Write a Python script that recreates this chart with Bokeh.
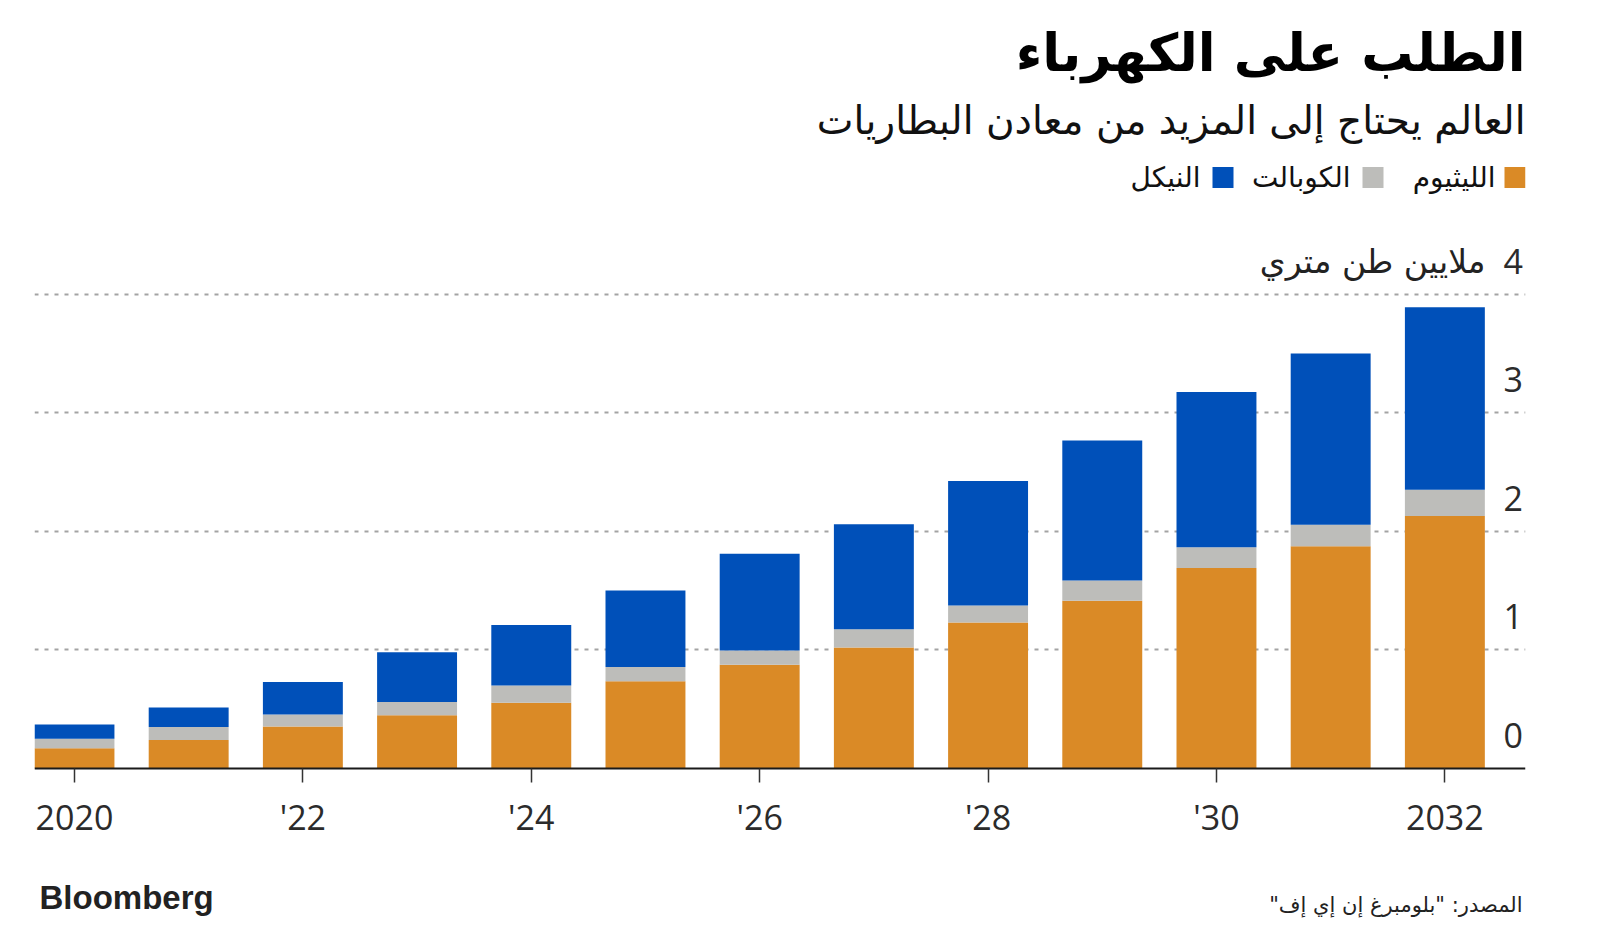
from bokeh.plotting import figure
from bokeh.models import (ColumnDataSource, Range1d, LinearAxis, FixedTicker, Grid,
                          Label, BoxAnnotation)
from bokeh.embed import file_html
from bokeh.resources import INLINE

# ---------------- data ----------------
years = [2020, 2021, 2022, 2023, 2024, 2025, 2026, 2027, 2028, 2029, 2030, 2031, 2032]
lithium = [0.17, 0.24, 0.355, 0.45, 0.555, 0.735, 0.875, 1.02, 1.23, 1.415, 1.69, 1.875, 2.13]
cobalt = [0.08, 0.11, 0.10, 0.11, 0.145, 0.12, 0.12, 0.155, 0.145, 0.17, 0.175, 0.18, 0.22]
nickel = [0.12, 0.165, 0.275, 0.42, 0.51, 0.645, 0.815, 0.885, 1.05, 1.18, 1.31, 1.445, 1.54]

series_keys = ["lithium", "cobalt", "nickel"]
series_names = ["الليثيوم", "الكوبالت", "النيكل"]
series_colors = ["#DA8A26", "#BDBDBA", "#0050B9"]

x_ticks = [2020, 2022, 2024, 2026, 2028, 2030, 2032]
x_tick_labels = ["2020", "'22", "'24", "'26", "'28", "'30", "2032"]
y_ticks = [0, 1, 2, 3, 4]

title_text = "الطلب على الكهرباء"
subtitle_text = "العالم يحتاج إلى المزيد من معادن البطاريات"
unit_text = "ملايين طن متري"
source_text = 'المصدر: "بلومبرغ إن إي إف"\u200f'
brand_text = "Bloomberg"

# ---------------- layout geometry (pixels) ----------------
W, H = 1600, 929
FRAME_L, FRAME_R = 34, 1525          # frame spans full height
BASE_PX = 768                        # pixel row of y = 0
PX_PER_UNIT = 118.6
PX_PER_YEAR = 114.2
X_START = 2019.65
LABEL_SHIFT = 0.278                  # tick labels sit above their gridlines

y0 = -(H - BASE_PX) / PX_PER_UNIT
y1 = BASE_PX / PX_PER_UNIT
x1 = X_START + (FRAME_R - FRAME_L) / PX_PER_YEAR

src = ColumnDataSource(dict(year=years, lithium=lithium, cobalt=cobalt, nickel=nickel))

p = figure(width=W, height=H, output_backend="svg", toolbar_location=None,
           x_range=Range1d(X_START, x1), y_range=Range1d(y0, y1),
           y_axis_location=None,
           min_border_left=FRAME_L, min_border_right=W - FRAME_R,
           min_border_top=0, min_border_bottom=0)
p.outline_line_color = None
p.background_fill_color = "white"
p.border_fill_color = "white"
for g in p.grid:
    g.visible = False

grid = Grid(dimension=1, ticker=FixedTicker(ticks=y_ticks[1:]),
            grid_line_color="#A3A3A3", grid_line_width=2, grid_line_dash="4 6")
p.add_layout(grid)

p.vbar_stack(series_keys, x="year", width=0.7, source=src,
             fill_color=series_colors, line_color=None)

# x axis drawn at y = 0 inside the frame
xa = p.xaxis[0]
xa.fixed_location = 0
xa.ticker = FixedTicker(ticks=x_ticks)
xa.major_label_overrides = {t: l for t, l in zip(x_ticks, x_tick_labels)}
xa.axis_line_color = "#1a1a1a"
xa.axis_line_width = 2.2
xa.major_tick_line_color = "#333333"
xa.major_tick_line_width = 1.5
xa.major_tick_out = 14
xa.major_tick_in = 0
xa.minor_tick_line_color = None
xa.major_label_standoff = 11
xa.major_label_text_font = "Open Sans"
xa.major_label_text_font_size = "34px"
xa.major_label_text_color = "#2b2b2b"

# right y axis with labels placed just above the gridlines
p.extra_y_ranges = {"lab": Range1d(y0 - LABEL_SHIFT, y1 - LABEL_SHIFT)}
ya = LinearAxis(y_range_name="lab", ticker=FixedTicker(ticks=y_ticks),
                axis_line_color=None, major_tick_line_color=None,
                minor_tick_line_color=None, major_tick_out=0, major_tick_in=0,
                major_label_standoff=-22,
                major_label_text_font="Open Sans",
                major_label_text_font_size="34px",
                major_label_text_color="#2b2b2b")
p.add_layout(ya, "right")

AR_FONT = "DejaVu Sans"


def label(text, px_x, px_y, size, color="#111111", align="right", font=AR_FONT,
          style="normal"):
    # px_x, px_y: page pixel position (from top-left) converted to frame screen units
    p.add_layout(Label(text=text, x=px_x - FRAME_L, y=H - px_y,
                       x_units="screen", y_units="screen",
                       text_align=align, text_baseline="middle",
                       text_font=font, text_font_size=size,
                       text_font_style=style, text_color=color))


# unit label next to the "4" tick
p.add_layout(Label(text=unit_text, x=1485 - FRAME_L, y=y_ticks[-1] + LABEL_SHIFT,
                   x_units="screen", y_units="data",
                   text_align="right", text_baseline="middle",
                   text_font=AR_FONT, text_font_size="33px", text_color="#222222"))

# title / subtitle
label(title_text, 1525, 52, "52px", color="#000000", style="bold")
label(subtitle_text, 1525, 120, "39px", color="#111111")

# legend, right-to-left
leg_px_y = 177
sq = 21
sq_rights = [1525, 1383, 1233]
txt_rights = [1495, 1350, 1200]
for name, col, sr, tr in zip(series_names, series_colors, sq_rights, txt_rights):
    sy = H - leg_px_y
    p.add_layout(BoxAnnotation(left=sr - sq - FRAME_L, right=sr - FRAME_L,
                               bottom=sy - sq / 2, top=sy + sq / 2,
                               left_units="screen", right_units="screen",
                               bottom_units="screen", top_units="screen",
                               fill_color=col, fill_alpha=1.0, line_color=None))
    label(name, tr, leg_px_y, "28px", color="#111111")

# footer
label(brand_text, 39, 897, "33px", color="#222222", align="left",
      font="Liberation Sans", style="bold")
label(source_text, 1522, 904, "21px", color="#222222")

open("out.html", "w").write(file_html(p, INLINE))
